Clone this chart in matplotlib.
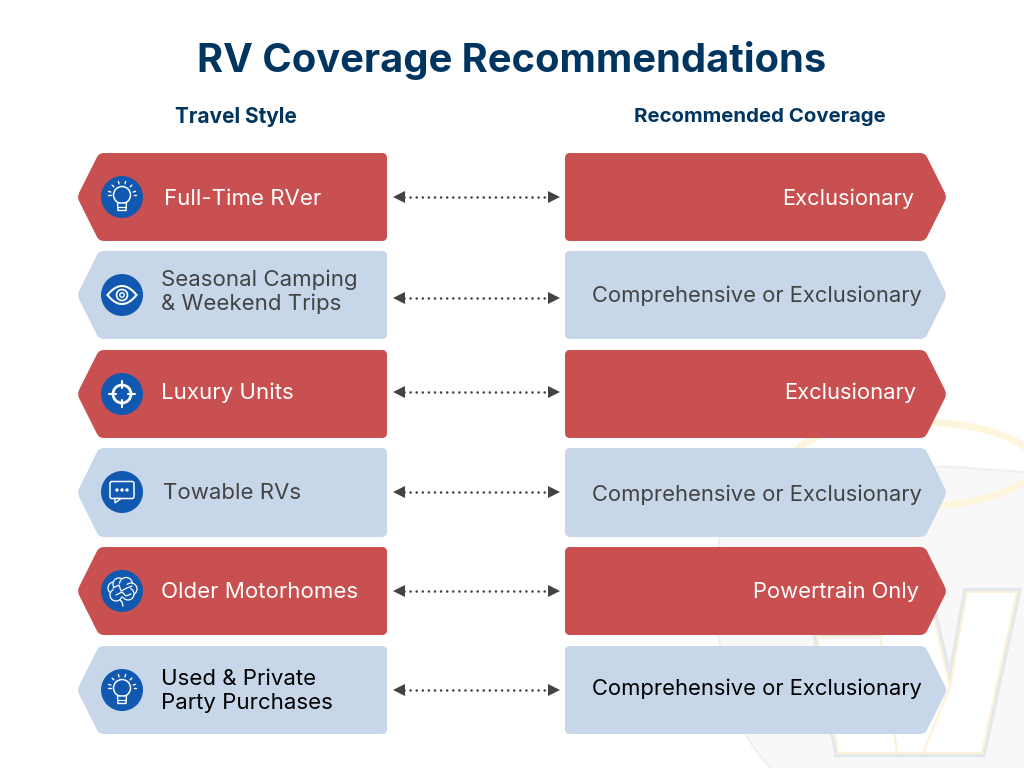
import numpy as np
import matplotlib
matplotlib.use("Agg")
import matplotlib.pyplot as plt
from matplotlib.patches import Circle, Ellipse, PathPatch, Polygon, FancyBboxPatch
from matplotlib.path import Path

plt.rcParams["font.family"] = ["Inter", "DejaVu Sans"]

title = "RV Coverage Recommendations"
left_header = "Travel Style"
right_header = "Recommended Coverage"
left_labels = ["Full-Time RVer", "Seasonal Camping\n& Weekend Trips", "Luxury Units",
               "Towable RVs", "Older Motorhomes", "Used & Private\nParty Purchases"]
right_labels = ["Exclusionary", "Comprehensive or Exclusionary", "Exclusionary",
                "Comprehensive or Exclusionary", "Powertrain Only", "Comprehensive or Exclusionary"]
icons = ["bulb", "eye", "target", "chat", "brain", "bulb"]

# pixel layout, y grows downwards
row_top = [153, 251, 350, 448, 547, 646]
row_bottom = [241, 339, 438, 537, 635, 734]
icon_y = [197, 295, 394, 492, 591, 690]
arrow_y = [197, 298, 392, 492, 591, 690]
left_text_x = [164, 161, 161, 163, 161, 161]
left_text_y = [199, 292, 393, 493, 592, 691]
right_text_x = [914, 922, 916, 922, 919, 922]
right_text_y = [199, 296, 393, 495, 592, 689]
row_fill = ["#c95050", "#c7d6e9", "#c95050", "#c7d6e9", "#c95050", "#c7d6e9"]
text_color = ["white", "#434343", "white", "#434343", "white", "black"]

NAVY = "#00355f"
ICON_BLUE = "#1058b0"


def rounded_poly(pts, r=6):
    """Closed path through pts with the corners rounded off."""
    pts = [np.array(p, dtype=float) for p in pts]
    n = len(pts)
    verts, codes = [], []
    for i in range(n):
        p, prev, nxt = pts[i], pts[i - 1], pts[(i + 1) % n]
        a = p + (prev - p) / np.linalg.norm(prev - p) * r
        b = p + (nxt - p) / np.linalg.norm(nxt - p) * r
        verts.append(a)
        codes.append(Path.MOVETO if i == 0 else Path.LINETO)
        verts += [p, b]
        codes += [Path.CURVE3, Path.CURVE3]
    verts.append(verts[0])
    codes.append(Path.CLOSEPOLY)
    return Path(verts, codes)


def line(ax, xs, ys, lw=1.1, color="white"):
    ax.plot(xs, ys, color=color, lw=lw, solid_capstyle="round", zorder=6)


def draw_bulb(ax, x, y):
    ax.add_patch(Circle((x, y - 2), 8.5, fc="none", ec="white", lw=1.1, zorder=6))
    ax.add_patch(Polygon([[x - 4.5, y + 6], [x + 4.5, y + 6], [x + 4, y + 13.5], [x - 4, y + 13.5]],
                         fc=ICON_BLUE, ec="white", lw=1.0, zorder=6))
    line(ax, [x - 4, x + 4], [y + 9.5, y + 9.5], 0.9)
    for ang in [-165, -135, -105, -75, -45, -15, 0, 180]:
        a = np.radians(ang)
        line(ax, [x + 11.5 * np.cos(a), x + 14 * np.cos(a)],
             [y - 2 + 11.5 * np.sin(a), y - 2 + 14 * np.sin(a)], 1.0)


def draw_eye(ax, x, y):
    t = np.linspace(-1, 1, 40)
    line(ax, x + 14.5 * t, y - 9 * (1 - t ** 2), 1.5)
    line(ax, x + 14.5 * t, y + 9 * (1 - t ** 2), 1.5)
    ax.add_patch(Circle((x, y), 5.5, fc="none", ec="white", lw=1.2, zorder=6))
    ax.add_patch(Circle((x, y), 2.2, fc="none", ec="white", lw=1.0, zorder=6))


def draw_target(ax, x, y):
    ax.add_patch(Circle((x, y), 9, fc="none", ec="white", lw=2.0, zorder=6))
    for dx, dy in [(1, 0), (-1, 0), (0, 1), (0, -1)]:
        line(ax, [x + 6 * dx, x + 13 * dx], [y + 6 * dy, y + 13 * dy], 1.5)


def draw_chat(ax, x, y):
    ax.add_patch(FancyBboxPatch((x - 12, y - 10.5), 24, 17, boxstyle="round,pad=0,rounding_size=2",
                                fc="none", ec="white", lw=1.1, zorder=6))
    ax.add_patch(Polygon([[x - 7, y + 6.5], [x - 7, y + 11], [x - 1, y + 6.5]],
                         fc=ICON_BLUE, ec="white", lw=1.0, zorder=7))
    for dx in [-5, 0, 5]:
        ax.add_patch(Circle((x + dx, y - 2), 1.7, fc="white", ec="none", zorder=7))


def draw_brain(ax, x, y):
    for cx, cy, r in [(-8, -3, 6), (-3, -7, 6), (4, -7, 6.5), (9, -2, 6), (6, 3, 6), (-6, 4, 6)]:
        ax.add_patch(Circle((x + cx, y + cy), r, fc=ICON_BLUE, ec="white", lw=0.9, zorder=6))
    ax.add_patch(Ellipse((x, y - 1), 17, 13, fc=ICON_BLUE, ec="none", zorder=6))
    line(ax, [x - 9, x - 3, x - 1, x + 5, x + 10], [y - 3, y - 6, y, y - 3, y - 5], 0.9)
    line(ax, [x - 6, x, x + 4, x + 9], [y + 4, y + 1, y + 5, y + 3], 0.9)
    line(ax, [x - 2, x, x + 1], [y + 9, y + 11, y + 15], 1.0)


ICON_FUNCS = {"bulb": draw_bulb, "eye": draw_eye, "target": draw_target,
              "chat": draw_chat, "brain": draw_brain}


def draw_watermark(ax):
    # faint badge behind the lower right rows
    shield = [(720, 510), (790, 495), (930, 465), (1060, 475), (1060, 800), (800, 800), (745, 740), (717, 640)]
    ax.add_patch(PathPatch(rounded_poly(shield, 30), fc="#f8f8f8", ec="#f0f0f0", lw=1.5, zorder=1))
    ax.add_patch(Ellipse((912, 464), 245, 85, fc="none", ec="#fef5dc", lw=5, zorder=1))
    w_left = [[817, 637], [880, 637], [897, 753], [838, 753]]
    w_right = [[967, 592], [1017, 592], [982, 753], [923, 753], [950, 687]]
    w_mid = [[880, 637], [933, 613], [950, 687], [923, 753], [897, 753]]
    for w in (w_left, w_right, w_mid):
        ax.add_patch(Polygon(w, fc="none", ec="#e3e8ed", lw=6, joinstyle="miter", zorder=1))
    for w in (w_mid, w_left, w_right):
        ax.add_patch(Polygon(w, fc="white", ec="#fdf1d8", lw=1.5, zorder=2))


fig = plt.figure(figsize=(10.24, 7.68), dpi=100)
ax = fig.add_axes([0, 0, 1, 1])
ax.set_xlim(0, 1024)
ax.set_ylim(768, 0)
ax.axis("off")

draw_watermark(ax)

ax.text(512, 60, title, color=NAVY, fontsize=28.7, fontweight="bold", ha="center", va="center")
ax.text(236, 117, left_header, color=NAVY, fontsize=15, fontweight="bold", ha="center", va="center")
ax.text(760, 117, right_header, color=NAVY, fontsize=14.7, fontweight="bold", ha="center", va="center")

for i in range(len(left_labels)):
    top, bot, mid = row_top[i], row_bottom[i], (row_top[i] + row_bottom[i]) / 2
    left_pts = [(77, mid), (99, top), (387, top), (387, bot), (99, bot)]
    right_pts = [(565, top), (925, top), (947, mid), (925, bot), (565, bot)]
    for pts in (left_pts, right_pts):
        ax.add_patch(PathPatch(rounded_poly(pts, 5), fc=row_fill[i], ec="none", zorder=3))

    ax.add_patch(Circle((122, icon_y[i]), 21, fc=ICON_BLUE, ec="none", zorder=5))
    ICON_FUNCS[icons[i]](ax, 122, icon_y[i])

    ax.text(left_text_x[i], left_text_y[i], left_labels[i], color=text_color[i], fontsize=16,
            ha="left", va="center", linespacing=1.2, zorder=6)
    ax.text(right_text_x[i], right_text_y[i], right_labels[i], color=text_color[i], fontsize=15.8,
            ha="right", va="center", zorder=6)

    y = arrow_y[i]
    ax.plot([404, 548], [y, y], color="#434343", lw=1.9, dash_capstyle="round",
            linestyle=(0, (0.01, 2.3)), zorder=4)
    ax.plot([398.5], [y], marker="<", ms=8.5, color="#434343", mew=0, zorder=4)
    ax.plot([553.5], [y], marker=">", ms=8.5, color="#434343", mew=0, zorder=4)

fig.savefig("out.png", dpi=100)
